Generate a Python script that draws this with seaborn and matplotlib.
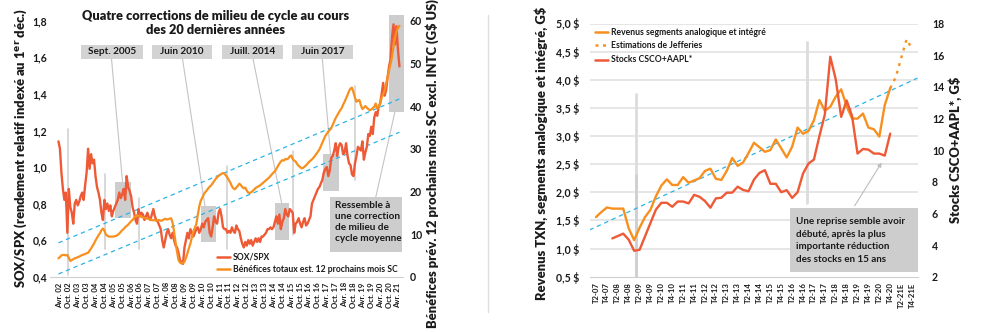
import matplotlib
matplotlib.use("Agg")
import matplotlib.pyplot as plt
import seaborn as sns
import pandas as pd
from matplotlib.patches import Rectangle
from matplotlib.lines import Line2D

sns.set_style("white")
plt.rcParams['font.family'] = ['Lato', 'DejaVu Sans']

# ---------------- DATA: left chart (monthly, month 0 = Apr 2002) ----------------
sox_months = list(range(-1, 230))
sox_spx = [
    1.14, 1.10, 0.97, 0.88, 0.82, 0.86, 0.64, 0.88, 0.78, 0.75, 0.69, 0.80,
    0.82, 0.79, 0.81, 0.84, 0.86, 0.82, 0.90, 0.97, 1.10, 0.99, 1.07, 1.02,
    1.04, 0.95, 0.89, 0.86, 0.82, 0.75, 0.71, 0.82, 0.77, 0.80, 0.76, 0.79,
    0.73, 0.76, 0.78, 0.80, 0.82, 0.86, 0.83, 0.85, 0.88, 0.82, 0.95, 0.89,
    0.87, 0.84, 0.78, 0.75, 0.71, 0.69, 0.77, 0.73, 0.75, 0.74, 0.71, 0.73,
    0.75, 0.72, 0.71, 0.74, 0.77, 0.73, 0.71, 0.70, 0.68, 0.66, 0.60, 0.56,
    0.60, 0.64, 0.66, 0.63, 0.61, 0.64, 0.60, 0.57, 0.56, 0.53, 0.49, 0.48,
    0.47, 0.56, 0.60, 0.64, 0.61, 0.66, 0.64, 0.62, 0.64, 0.66, 0.67, 0.64,
    0.66, 0.69, 0.67, 0.70, 0.71, 0.72, 0.64, 0.62, 0.67, 0.73, 0.70, 0.69,
    0.75, 0.77, 0.73, 0.67, 0.66, 0.66, 0.64, 0.65, 0.64, 0.67, 0.65, 0.64,
    0.68, 0.66, 0.65, 0.61, 0.58, 0.56, 0.59, 0.57, 0.60, 0.58, 0.60, 0.57,
    0.59, 0.61, 0.59, 0.61, 0.59, 0.62, 0.62, 0.63, 0.64, 0.66, 0.66, 0.67,
    0.66, 0.67, 0.70, 0.73, 0.69, 0.74, 0.66, 0.70, 0.72, 0.77, 0.74, 0.73,
    0.77, 0.76, 0.75, 0.64, 0.69, 0.70, 0.72, 0.69, 0.67, 0.70, 0.72, 0.68,
    0.69, 0.71, 0.73, 0.80, 0.82, 0.84, 0.86, 0.88, 0.89, 0.91, 0.93, 0.97,
    0.99, 1.00, 0.95, 0.98, 1.05, 1.06, 1.09, 1.13, 1.06, 1.11, 1.13, 1.12,
    1.07, 1.08, 1.13, 1.06, 1.02, 1.01, 0.96, 0.95, 1.02, 1.06, 1.11, 1.10,
    1.09, 1.14, 1.04, 1.08, 1.11, 1.18, 1.17, 1.22, 1.18, 1.27, 1.30, 1.28,
    1.33, 1.35, 1.40, 1.46, 1.39, 1.42, 1.49, 1.55, 1.59, 1.71, 1.78, 1.67,
    1.77, 1.64, 1.55,
]
earnings = [
    4.3, 4.6, 5.0, 5.1, 5.1, 5.0, 5.1, 4.4, 3.7, 3.9, 4.1, 4.3,
    4.4, 4.6, 4.7, 4.9, 5.1, 5.2, 5.3, 5.5, 5.6, 6.1, 6.6, 7.2,
    7.8, 8.5, 9.1, 9.7, 10.2, 10.9, 11.3, 10.8, 9.9, 9.6, 9.4, 9.4,
    9.4, 9.4, 9.5, 9.6, 9.8, 10.1, 10.5, 10.9, 11.2, 11.6, 11.9, 12.2,
    12.6, 13.0, 13.3, 13.8, 14.1, 14.4, 14.3, 14.2, 14.0, 13.9, 13.8, 13.7,
    13.6, 13.5, 13.4, 13.3, 13.2, 13.3, 13.1, 13.2, 13.3, 13.1, 13.2, 13.4,
    13.6, 13.4, 13.5, 13.6, 13.7, 12.6, 10.5, 8.0, 5.8, 3.9, 3.3, 3.1,
    3.2, 3.5, 4.4, 5.5, 6.7, 7.8, 9.2, 10.6, 11.5, 12.3, 14.5, 16.5,
    17.8, 18.5, 19.3, 19.8, 20.2, 20.7, 21.1, 21.4, 21.9, 22.4, 22.9, 23.3,
    23.6, 23.9, 24.1, 24.3, 24.1, 23.7, 23.2, 22.6, 22.0, 21.2, 20.7, 20.5,
    20.9, 21.3, 21.8, 21.5, 21.0, 20.7, 20.9, 20.2, 19.7, 19.6, 19.8, 20.1,
    20.4, 20.8, 21.0, 21.2, 21.4, 21.7, 22.0, 22.3, 22.6, 22.9, 23.2, 23.6,
    24.0, 24.4, 24.7, 25.3, 25.9, 26.5, 27.0, 27.3, 27.2, 27.6, 27.5, 27.7,
    28.2, 28.4, 27.6, 27.2, 27.0, 26.4, 26.0, 25.7, 25.4, 25.5, 25.8, 26.1,
    26.5, 26.9, 27.2, 27.5, 27.9, 28.3, 28.8, 29.3, 29.8, 30.6, 31.4, 32.2,
    33.0, 33.5, 34.0, 34.4, 34.8, 35.6, 36.4, 37.2, 37.8, 38.4, 39.0, 39.5,
    40.3, 41.0, 41.8, 42.6, 43.5, 44.1, 44.3, 43.2, 42.0, 41.0, 41.3, 41.4,
    40.2, 39.3, 39.6, 40.0, 39.6, 39.3, 39.0, 39.2, 39.5, 39.8, 40.6, 39.4,
    39.9, 40.5, 42.0, 42.8, 43.6, 45.2, 46.9, 48.5, 50.0, 51.5, 54.0, 56.0,
    57.5, 58.3, 58.8,
]
left_xtick_months = list(range(0, 229, 6))
left_xtick_labels = [
    'Avr. 02', 'Oct. 02', 'Avr. 03', 'Oct. 03', 'Avr. 04', 'Oct. 04', 'Avr. 05', 'Oct. 05',
    'Avr. 06', 'Oct. 06', 'Avr. 07', 'Oct. 07', 'Avr. 08', 'Oct. 08', 'Avr. 09', 'Oct. 09',
    'Avr. 10', 'Oct. 10', 'Avr. 11', 'Oct. 11', 'Avr. 12', 'Oct. 12', 'Avr. 13', 'Oct. 13',
    'Avr. 14', 'Oct. 14', 'Avr. 15', 'Oct. 15', 'Avr. 16', 'Oct. 16', 'Avr. 17', 'Oct. 17',
    'Avr. 18', 'Oct. 18', 'Avr. 19', 'Oct. 19', 'Avr. 20', 'Oct. 20', 'Avr. 21',
]
left_yticks = [0.4, 0.6, 0.8, 1.0, 1.2, 1.4, 1.6, 1.8]
left_ytick_labels = ['0,4', '0,6', '0,8', '1,0', '1,2', '1,4', '1,6', '1,8']
left_y2ticks = [0, 10, 20, 30, 40, 50, 60]
upper_trend = [0.585, 1.372]
lower_trend = [0.415, 1.19]
trend_months = [-1, 229]

# ---------------- DATA: right chart (quarterly, q 0 = T2-07) ----------------
rev_quarters = list(range(0, 55))
revenue = [
    1.56, 1.65, 1.73, 1.71, 1.71, 1.71, 1.36, 1.15, 1.37, 1.56, 1.69, 1.93,
    2.12, 2.23, 2.13, 2.13, 2.27, 2.17, 2.21, 2.25, 2.38, 2.42, 2.24, 2.22,
    2.38, 2.61, 2.47, 2.53, 2.70, 2.88, 2.80, 2.72, 2.75, 2.94, 2.78, 2.62,
    2.81, 3.15, 3.04, 3.09, 3.28, 3.64, 3.45, 3.52, 3.70, 3.83, 3.53, 3.31,
    3.31, 3.40, 3.15, 3.12, 2.99, 3.55, 3.85,
]
est_quarters = [54, 55, 56, 57, 58]
estimates = [3.85, 4.04, 4.38, 4.72, 4.55]
stock_quarters = list(range(3, 55))
stocks = [
    4.42, 4.57, 4.72, 4.34, 3.64, 3.70, 4.55, 5.40, 6.24, 6.67, 6.67, 6.42,
    6.75, 6.75, 6.63, 7.17, 7.05, 6.78, 6.36, 6.95, 6.99, 7.31, 7.31, 7.69,
    7.48, 7.40, 8.14, 8.56, 8.73, 7.87, 7.87, 7.34, 7.47, 6.98, 7.34, 8.52,
    9.15, 9.40, 10.88, 12.25, 15.90, 14.47, 12.10, 13.14, 12.15, 9.78, 10.07, 10.03,
    9.78, 9.78, 9.65, 11.04,
]
right_xtick_q = list(range(0, 59, 2))
right_xtick_labels = [
    'T2-07', 'T4-07', 'T2-08', 'T4-08', 'T2-09', 'T4-09', 'T2-10', 'T4-10', 'T2-11', 'T4-11',
    'T2-12', 'T4-12', 'T2-13', 'T4-13', 'T2-14', 'T4-14', 'T2-15', 'T4-15', 'T2-16', 'T4-16',
    'T2-17', 'T4-17', 'T2-18', 'T4-18', 'T2-19', 'T4-19', 'T2-20', 'T4-20', 'T2-21E', 'T4-21E',
]
right_yticks = [0.5, 1.0, 1.5, 2.0, 2.5, 3.0, 3.5, 4.0, 4.5, 5.0]
right_ytick_labels = ['0,5 $', '1,0 $', '1,5 $', '2,0 $', '2,5 $', '3,0 $', '3,5 $', '4,0 $', '4,5 $', '5,0 $']
right_y2ticks = [2, 4, 6, 8, 10, 12, 14, 16, 18]
rev_trend_q = [-1.2, 59.0]
rev_trend = [1.33, 4.03]

# ---------------- STYLE ----------------
RED = '#EE5A36'
ORANGE = '#F7901E'
BLUE = '#2BB3E6'
BOXGREY = '#CDCDCD'
LINEGREY = '#D2D2D2'
TXT = '#1a1a1a'
LABEL_W = 'heavy'

W, H = 1000, 332
fig = plt.figure(figsize=(W / 100, H / 100), dpi=100)


def rect(x0, y0, x1, y1):
    return [x0 / W, 1 - y1 / H, (x1 - x0) / W, (y1 - y0) / H]


# ================= LEFT CHART =================
axL = fig.add_axes(rect(50, 20.7, 403, 276.7))
axL2 = axL.twinx()
axL.set_xlim(-6.7, 231.4)
axL.set_ylim(0.4, 1.8)
axL2.set_ylim(0, 60)

# highlight boxes
for (m0, m1, v0, v1) in [(37.4, 47.9, 0.72, 0.92), (95.1, 105.4, 0.588, 0.788),
                         (145.0, 154.6, 0.60, 0.805), (177.5, 187.9, 0.87, 1.07),
                         (222.0, 232.0, 1.30, 1.83)]:
    axL.add_patch(Rectangle((m0, v0), m1 - m0, v1 - v0, facecolor=BOXGREY,
                            edgecolor='none', zorder=0, clip_on=False))
# vertical markers
for (m, v0, v1) in [(5.4, 0.41, 1.21), (30.3, 0.55, 0.96), (53.5, 0.55, 0.83),
                    (113.0, 0.55, 1.007), (157.3, 0.63, 1.09), (199.0, 0.93, 1.445)]:
    axL.plot([m, m], [v0, v1], color=LINEGREY, lw=1.2, zorder=1)

# trend lines
sns.lineplot(x=trend_months, y=upper_trend, ax=axL, color=BLUE, lw=0.9,
             linestyle=(0, (3.5, 3)), zorder=2)
sns.lineplot(x=trend_months, y=lower_trend, ax=axL, color=BLUE, lw=0.9,
             linestyle=(0, (3.5, 3)), zorder=2)

sns.lineplot(x=sox_months, y=sox_spx, ax=axL, color=RED, lw=1.7, zorder=3)
sns.lineplot(x=sox_months, y=earnings, ax=axL2, color=ORANGE, lw=1.6, zorder=3)

# label boxes and leader lines
for (m0, m1, label, p0, p1) in [
        (14.2, 56.0, 'Sept. 2005', (34.8, 1.59), (42.2, 0.92)),
        (62.0, 102.5, 'Juin 2010', (82.7, 1.59), (97.8, 0.788)),
        (109.3, 150.4, 'Juill. 2014', (130.3, 1.59), (149.5, 0.805)),
        (156.5, 197.6, 'Juin 2017', (177.0, 1.59), (182.5, 1.07))]:
    axL.add_patch(Rectangle((m0, 1.591), m1 - m0, 0.076, facecolor='#D3D3D3',
                            edgecolor='none', zorder=4))
    axL.text((m0 + m1) / 2, 1.629, label, ha='center', va='center', fontsize=7.2,
             fontweight='bold', color=TXT, zorder=5)
    axL.plot([p0[0], p1[0]], [p0[1], p1[1]], color='#C4C4C4', lw=0.8, zorder=1)

# "Ressemble" box
axL.add_patch(Rectangle((182.0, 0.534), 49.0, 0.30, facecolor=BOXGREY,
                        edgecolor='none', zorder=4))
axL.plot([213.0, 225.9], [0.834, 1.30], color='#C4C4C4', lw=0.8, zorder=1)
for i, line in enumerate(['Ressemble à', 'une correction', 'de milieu de', 'cycle moyenne']):
    axL.text(185.5, 0.79 - i * 0.0605, line, ha='left', va='center', fontsize=7.2,
             fontweight='bold', color=TXT, zorder=5)

# title
axL.text(0.47, 1.04, 'Quatre corrections de milieu de cycle au cours\ndes 20 dernières années',
         transform=axL.transAxes, ha='center', va='top', fontsize=9.2, fontweight=LABEL_W,
         color=TXT, linespacing=1.15)

# legend
for yy, col, lab in [(0.078, RED, 'SOX/SPX'),
                     (0.030, ORANGE, 'Bénéfices totaux est. 12 prochains mois SC')]:
    axL.add_line(Line2D([0.473, 0.510], [yy, yy], transform=axL.transAxes, color=col, lw=1.8))
    axL.text(0.518, yy, lab, transform=axL.transAxes, ha='left', va='center',
             fontsize=6.2, fontweight='bold', color=TXT)

axL.set_xticks(left_xtick_months)
axL.set_xticklabels(left_xtick_labels, rotation=90, fontsize=5.6, fontweight='bold', color=TXT)
axL.set_yticks(left_yticks)
axL.set_yticklabels(left_ytick_labels, fontsize=7.6, fontweight='bold', color=TXT)
axL2.set_yticks(left_y2ticks)
axL2.set_yticklabels([str(t) for t in left_y2ticks], fontsize=7.6, fontweight='bold', color=TXT)
axL.tick_params(axis='x', length=0, pad=4)
axL.tick_params(axis='y', length=0, pad=2)
axL2.tick_params(axis='y', length=0, pad=5)
for ax in (axL, axL2):
    for s in ('top', 'left', 'right'):
        ax.spines[s].set_visible(False)
    ax.set_xlabel('')
    ax.set_ylabel('')
axL.spines['bottom'].set_color('#CFCFCF')
axL2.spines['bottom'].set_visible(False)

fig.text(21 / W, 1 - 148 / H, 'SOX/SPX (rendement relatif indexé au 1$^{\\mathbf{er}}$ déc.)',
         rotation=90, ha='center', va='center', fontsize=9.4, fontweight=LABEL_W, color=TXT)
fig.text(432 / W, 1 - 164 / H, 'Bénéfices prév. 12 prochains mois SC excl. INTC (G$ US)',
         rotation=90, ha='center', va='center', fontsize=9.4, fontweight=LABEL_W, color=TXT)

# separator
fig.add_artist(Line2D([488 / W, 488 / W], [1 - 15 / H, 1 - 312 / H], color='#DDDDDD', lw=1))

# ================= RIGHT CHART =================
axR = fig.add_axes(rect(590, 23.5, 918, 276.7))
axR2 = axR.twinx()
axR.set_xlim(-1.1, 59.1)
axR.set_ylim(0.5, 5.0)
axR2.set_ylim(2, 18)

for yv in right_yticks[1:]:
    axR.axhline(yv, color='#E6E6E6', lw=1.4, zorder=0)

axR.plot([7.3, 7.3], [0.5, 3.74], color='#DCDCDC', lw=2, zorder=1)
axR.plot([7.3, 7.3], [0.5, 2.3], color='#D0D0D0', lw=2, zorder=1)
axR.plot([38.8, 38.8], [1.81, 4.68], color='#DCDCDC', lw=2, zorder=1)

sns.lineplot(x=rev_trend_q, y=rev_trend, ax=axR, color=BLUE, lw=0.9,
             linestyle=(0, (3.5, 3)), zorder=2)
sns.lineplot(x=rev_quarters, y=revenue, ax=axR, color=ORANGE, lw=1.7, zorder=3)
sns.lineplot(x=est_quarters, y=estimates, ax=axR, color=ORANGE, lw=1.7,
             linestyle=(0, (1.2, 2.2)), zorder=3)
sns.lineplot(x=stock_quarters, y=stocks, ax=axR2, color=RED, lw=1.7, zorder=3)

# annotation box
axR.add_patch(Rectangle((35.6, 0.583), 23.5, 1.135, facecolor=BOXGREY,
                        edgecolor='none', zorder=4, clip_on=False))
for i, line in enumerate(['Une reprise semble avoir', 'débuté, après la plus',
                          'importante réduction', 'des stocks en 15 ans']):
    axR.text(36.8, 1.48 - i * 0.222, line, ha='left', va='center', fontsize=7.1,
             fontweight='bold', color=TXT, zorder=5)
axR.annotate('', xy=(52.7, 2.57), xytext=(47.2, 1.718),
             arrowprops=dict(arrowstyle='-|>', color='#BDBDBD', lw=0.8, mutation_scale=6),
             zorder=4)

# legend
for yy, col, ls, lab in [(0.966, ORANGE, '-', 'Revenus segments analogique et intégré'),
                         (0.915, ORANGE, (0, (1.2, 1.8)), 'Estimations de Jefferies'),
                         (0.856, RED, '-', 'Stocks CSCO+AAPL*')]:
    axR.add_line(Line2D([0.015, 0.055], [yy, yy], transform=axR.transAxes, color=col,
                        lw=1.8, linestyle=ls))
    axR.text(0.064, yy, lab, transform=axR.transAxes, ha='left', va='center',
             fontsize=6.2, fontweight='bold', color=TXT)

axR.set_xticks(right_xtick_q)
axR.set_xticklabels(right_xtick_labels, rotation=90, fontsize=5.6, fontweight='bold', color=TXT)
axR.set_yticks(right_yticks)
axR.set_yticklabels(right_ytick_labels, fontsize=7.6, fontweight='bold', color=TXT)
axR2.set_yticks(right_y2ticks)
axR2.set_yticklabels([str(t) for t in right_y2ticks], fontsize=7.6, fontweight='bold', color=TXT)
axR.tick_params(axis='x', length=0, pad=4)
axR.tick_params(axis='y', length=0, pad=8)
axR2.tick_params(axis='y', length=0, pad=10)
for ax in (axR, axR2):
    for s in ('top', 'left', 'right'):
        ax.spines[s].set_visible(False)
    ax.set_xlabel('')
    ax.set_ylabel('')
axR.spines['bottom'].set_color('#CFCFCF')
axR2.spines['bottom'].set_visible(False)
for ax in (axL, axL2, axR, axR2):
    leg = ax.get_legend()
    if leg is not None:
        leg.remove()

fig.text(541 / W, 1 - 153 / H, 'Revenus TXN, segments analogique et intégré, G$',
         rotation=90, ha='center', va='center', fontsize=9.4, fontweight=LABEL_W, color=TXT)
fig.text(955 / W, 1 - 150 / H, 'Stocks CSCO+AAPL*, G$',
         rotation=90, ha='center', va='center', fontsize=9.4, fontweight=LABEL_W, color=TXT)

fig.savefig('out.png', dpi=100)
